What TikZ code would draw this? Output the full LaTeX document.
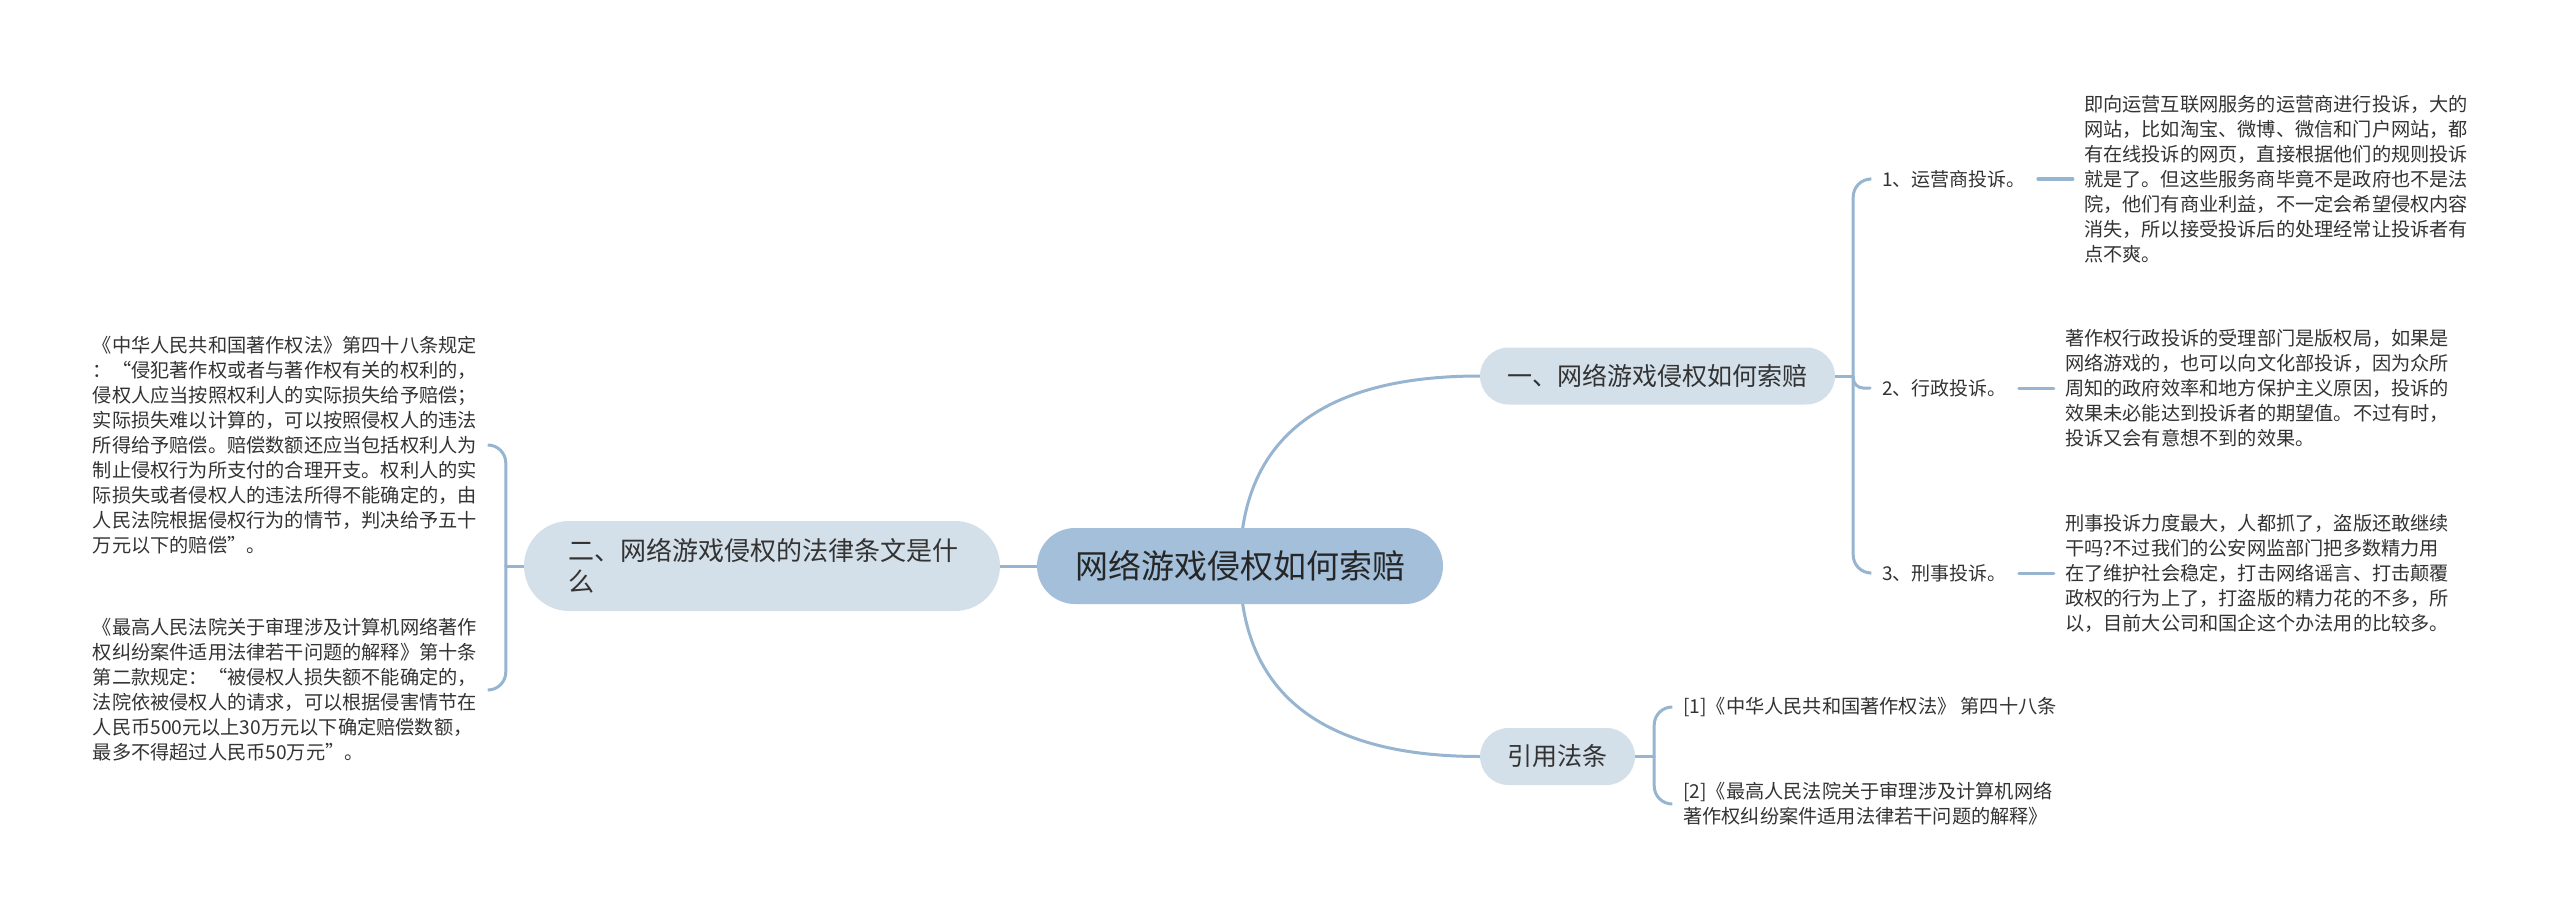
\documentclass[tikz,border=0pt]{standalone}
\usepackage{fontspec}
\setmainfont{Noto Sans CJK SC}
\usepackage{tikz}
\usetikzlibrary{positioning,calc,backgrounds}

\definecolor{rootblue}{HTML}{A3BFDA}
\definecolor{branchgrey}{HTML}{D4E0E9}
\definecolor{linkblue}{HTML}{97B4D0}
\definecolor{inkgrey}{HTML}{333333}

\begin{document}
\begin{tikzpicture}[x=1pt, y=-1pt,
    % --- Box styles ---
    root/.style={fill=rootblue, rounded corners=38pt, minimum height=76pt,
                 minimum width=406pt, inner sep=0pt, text=black!85,
                 font=\fontsize{33}{40}\selectfont},
    branch/.style={fill=branchgrey, inner sep=0pt, text=inkgrey,
                   font=\fontsize{25}{31}\selectfont},
    itemtag/.style={inner xsep=12pt, inner ysep=0pt, text=inkgrey,
                    font=\fontsize{19}{25}\selectfont},
    leaf/.style={align=left, inner xsep=11pt, inner ysep=0pt, text=inkgrey,
                 font=\fontsize{19.2}{25}\selectfont},
    % --- Connector style ---
    link/.style={draw=linkblue, line width=3pt, line cap=round},
]
\useasboundingbox (0,0) rectangle (2560,923);

% === Root and the three branches ===
\node[root] (root) at (1240,566) {网络游戏侵权如何索赔};
\node[branch, minimum width=355pt, minimum height=57pt, rounded corners=28.5pt]
  (howto) at (1657.5,376) {一、网络游戏侵权如何索赔};
\node[branch, text width=388pt, align=left, inner xsep=44pt, minimum height=90pt,
      rounded corners=45pt, font=\fontsize{26}{31}\selectfont]
  (lawtext) at (762,566) {二、网络游戏侵权的法律条文是什\\么};
\node[branch, minimum width=155pt, minimum height=57pt, rounded corners=28.5pt]
  (cite) at (1557.5,756.5) {引用法条};

% === Right: the three ways to complain ===
\node[itemtag, anchor=west] (tag1) at (1870,179) {1、运营商投诉。};
\node[itemtag, anchor=west] (tag2) at (1870,388) {2、行政投诉。};
\node[itemtag, anchor=west] (tag3) at (1870,573) {3、刑事投诉。};

\node[leaf, right=35pt of tag1] (leaf1) {即向运营互联网服务的运营商进行投诉，大的\\
网站，比如淘宝、微博、微信和门户网站，都\\
有在线投诉的网页，直接根据他们的规则投诉\\
就是了。但这些服务商毕竟不是政府也不是法\\
院，他们有商业利益，不一定会希望侵权内容\\
消失，所以接受投诉后的处理经常让投诉者有\\
点不爽。};
\node[leaf, right=35pt of tag2] (leaf2) {著作权行政投诉的受理部门是版权局，如果是\\
网络游戏的，也可以向文化部投诉，因为众所\\
周知的政府效率和地方保护主义原因，投诉的\\
效果未必能达到投诉者的期望值。不过有时，\\
投诉又会有意想不到的效果。};
\node[leaf, right=35pt of tag3] (leaf3) {刑事投诉力度最大，人都抓了，盗版还敢继续\\
干吗?不过我们的公安网监部门把多数精力用\\
在了维护社会稳定，打击网络谣言、打击颠覆\\
政权的行为上了，打盗版的精力花的不多，所\\
以，目前大公司和国企这个办法用的比较多。};

% === Left: the two legal texts ===
\node[leaf, anchor=east] (law48) at (488,445) {《中华人民共和国著作权法》第四十八条规定\\
：“侵犯著作权或者与著作权有关的权利的，\\
侵权人应当按照权利人的实际损失给予赔偿；\\
实际损失难以计算的，可以按照侵权人的违法\\
所得给予赔偿。赔偿数额还应当包括权利人为\\
制止侵权行为所支付的合理开支。权利人的实\\
际损失或者侵权人的违法所得不能确定的，由\\
人民法院根据侵权行为的情节，判决给予五十\\
万元以下的赔偿”。};
\node[leaf, anchor=east] (law10) at (488,690) {《最高人民法院关于审理涉及计算机网络著作\\
权纠纷案件适用法律若干问题的解释》第十条\\
第二款规定：“被侵权人损失额不能确定的，\\
法院依被侵权人的请求，可以根据侵害情节在\\
人民币500元以上30万元以下确定赔偿数额，\\
最多不得超过人民币50万元”。};

% === Bottom: cited laws ===
\node[leaf, anchor=west] (ref1) at (1672,707) {[1]《中华人民共和国著作权法》 第四十八条};
\node[leaf, anchor=west] (ref2) at (1672,804) {[2]《最高人民法院关于审理涉及计算机网络\\
著作权纠纷案件适用法律若干问题的解释》};

% === Connectors, behind the boxes ===
\begin{scope}[on background layer]
\draw[link] (root.center) .. controls (1240,439) and (1321,376) .. (howto.west);
\draw[link] (root.center) .. controls (1240,693) and (1321,756.5) .. (cite.west);
\draw[link] (root.west) -- (lawtext.east);

% right bracket
\coordinate (howtojoin) at ($(howto.east)+(18,0)$);
\draw[link] (howto.east) -- (howtojoin);
\foreach \t/\r in {tag1/18, tag2/10, tag3/18}
  \draw[link, rounded corners=\r pt] (howtojoin) |- (\t.west);
\foreach \i in {1,2,3}
  \draw[link] (tag\i.east) -- (leaf\i.west);

% left bracket
\coordinate (lawjoin) at ($(lawtext.west)+(-18,0)$);
\draw[link] (lawtext.west) -- (lawjoin);
\foreach \t in {law48, law10}
  \draw[link, rounded corners=18pt] (lawjoin) |- (\t.east);

% cited laws bracket
\coordinate (citejoin) at ($(cite.east)+(19,0)$);
\draw[link] (cite.east) -- (citejoin);
\foreach \t in {ref1, ref2}
  \draw[link, rounded corners=18pt] (citejoin) |- (\t.west);
\end{scope}

\end{tikzpicture}
\end{document}
